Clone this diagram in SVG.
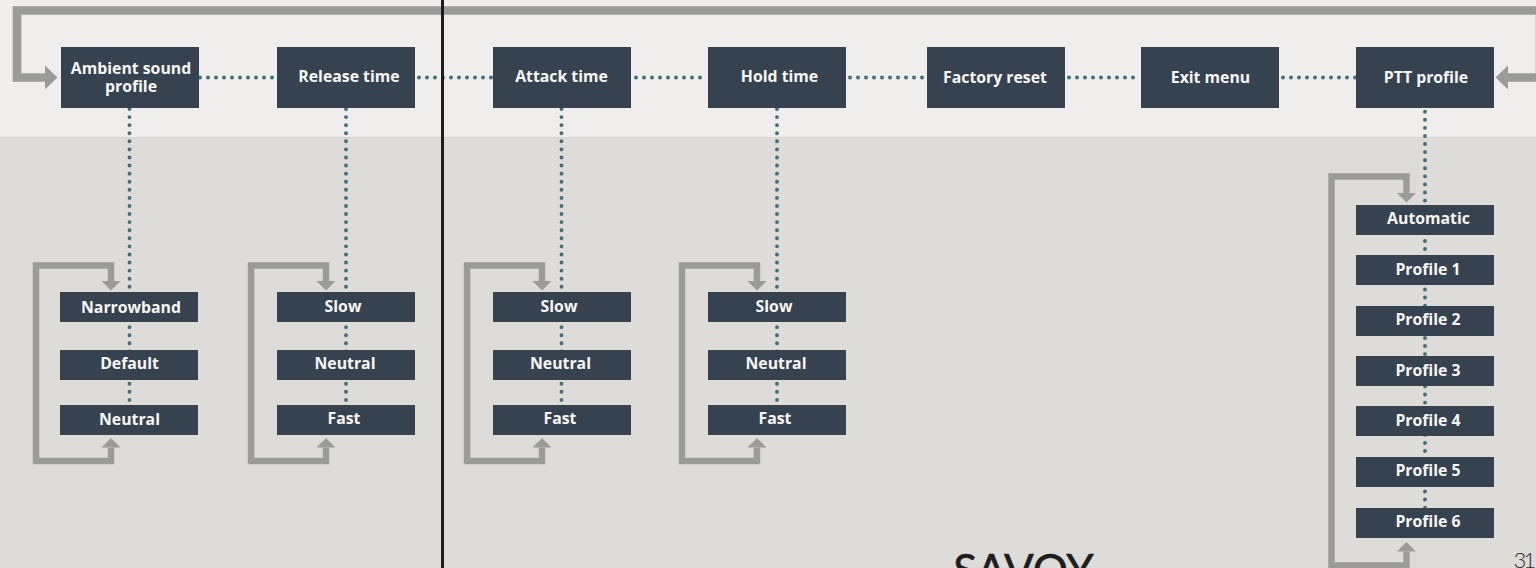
<svg xmlns="http://www.w3.org/2000/svg" width="1536" height="568" viewBox="0 0 1536 568">
<style>
.n{fill:#36424f}
.t{font-family:"Open Sans","Liberation Sans",sans-serif;font-weight:700;font-size:15.8px;fill:#f7f7f5;text-anchor:middle}
.d{fill:none;stroke:#3f6f78;stroke-width:3.9;stroke-linecap:round;stroke-dasharray:0 8.08}
.h{stroke-dasharray:0 8}
.l{fill:none;stroke:#9b9c9a;stroke-width:6.5}
.big{stroke-width:8.7}
.fh{fill:#9b9c9a}
</style>
<defs>
<marker id="a" markerUnits="userSpaceOnUse" markerWidth="10" markerHeight="20" refX="0" refY="9.5" orient="auto-start-reverse" viewBox="0 0 10 19"><path class="fh" d="M0 0L9.5 9.5L0 19Z"/></marker>
<marker id="b" markerUnits="userSpaceOnUse" markerWidth="13" markerHeight="25" refX="0" refY="12" orient="auto-start-reverse" viewBox="0 0 13 24"><path class="fh" d="M0 0L12.5 12L0 24Z"/></marker>
</defs>
<rect width="1536" height="568" fill="#dddcd8"/>
<rect width="1536" height="137" fill="#efeeec"/>
<rect y="137" width="1536" height="1" fill="#d5d4cf"/>
<g id="connectors">
<path class="d h" d="M200 77.500H277M419 77.500H493M636 77.500H708M850 77.500H927M1069 77.500H1141M1283 77.500H1356"/>
<path class="d" d="M129.500 109V420M346 109V420M561.500 109V420M777 109V420M1425 111.700V520"/>
<path class="l big" marker-start="url(#b)" marker-end="url(#b)" d="M1508 77.500H1540V10.500H17V77.500H45"/>
<path class="l" marker-start="url(#a)" marker-end="url(#a)" d="M111 281V265.500H36V461H111V447.500"/>
<path class="l" marker-start="url(#a)" marker-end="url(#a)" d="M326 281V265.500H251V461H326V447.500"/>
<path class="l" marker-start="url(#a)" marker-end="url(#a)" d="M542 281V265.500H467V461H542V447.500"/>
<path class="l" marker-start="url(#a)" marker-end="url(#a)" d="M757 281V265.500H682V461H757V447.500"/>
<path class="l" marker-start="url(#a)" marker-end="url(#a)" d="M1406.500 193V176.500H1331.500V565.500H1406.500V551.500"/>
</g>
<rect id="divider" x="441" y="0" width="3" height="568" fill="#1d1d1f"/>
<g id="ambient"><rect class="n" x="61" y="47" width="138" height="61"/><text class="t" x="131" y="74">Ambient sound</text><text class="t" x="131" y="92">profile</text></g>
<g id="release"><rect class="n" x="277" y="47" width="138" height="61"/><text class="t" x="349" y="82">Release time</text></g>
<g id="attack"><rect class="n" x="493" y="47" width="138" height="61"/><text class="t" x="561.500" y="82">Attack time</text></g>
<g id="hold"><rect class="n" x="708" y="47" width="138" height="61"/><text class="t" x="779.500" y="82">Hold time</text></g>
<g id="factory"><rect class="n" x="927" y="47" width="138" height="61"/><text class="t" x="995" y="83">Factory reset</text></g>
<g id="exit"><rect class="n" x="1141" y="47" width="138" height="61"/><text class="t" x="1210.500" y="83">Exit menu</text></g>
<g id="ptt"><rect class="n" x="1356" y="47" width="138" height="61"/><text class="t" x="1426" y="83">PTT profile</text></g>
<g id="a1"><rect class="n" x="60" y="292" width="138" height="30"/><text class="t" x="131" y="313">Narrowband</text></g>
<g id="a2"><rect class="n" x="60" y="350" width="138" height="30"/><text class="t" x="129.500" y="369">Default</text></g>
<g id="a3"><rect class="n" x="60" y="405" width="138" height="30"/><text class="t" x="129.500" y="425">Neutral</text></g>
<g id="r1"><rect class="n" x="277" y="292" width="138" height="30"/><text class="t" x="343" y="312">Slow</text></g>
<g id="r2"><rect class="n" x="277" y="350" width="138" height="30"/><text class="t" x="345" y="369">Neutral</text></g>
<g id="r3"><rect class="n" x="277" y="405" width="138" height="30"/><text class="t" x="344" y="424">Fast</text></g>
<g id="t1"><rect class="n" x="493" y="292" width="138" height="30"/><text class="t" x="559" y="312">Slow</text></g>
<g id="t2"><rect class="n" x="493" y="350" width="138" height="30"/><text class="t" x="560.500" y="369">Neutral</text></g>
<g id="t3"><rect class="n" x="493" y="405" width="138" height="30"/><text class="t" x="560" y="424">Fast</text></g>
<g id="h1"><rect class="n" x="708" y="292" width="138" height="30"/><text class="t" x="774" y="312">Slow</text></g>
<g id="h2"><rect class="n" x="708" y="350" width="138" height="30"/><text class="t" x="776" y="369">Neutral</text></g>
<g id="h3"><rect class="n" x="708" y="405" width="138" height="30"/><text class="t" x="775" y="424">Fast</text></g>
<g id="p0"><rect class="n" x="1356" y="205" width="138" height="30"/><text class="t" x="1428.500" y="224">Automatic</text></g>
<g id="p1"><rect class="n" x="1356" y="255" width="138" height="30"/><text class="t" x="1428" y="275">Profile 1</text></g>
<g id="p2"><rect class="n" x="1356" y="306" width="138" height="30"/><text class="t" x="1428" y="325">Profile 2</text></g>
<g id="p3"><rect class="n" x="1356" y="356" width="138" height="30"/><text class="t" x="1428" y="376">Profile 3</text></g>
<g id="p4"><rect class="n" x="1356" y="406" width="138" height="30"/><text class="t" x="1428" y="426">Profile 4</text></g>
<g id="p5"><rect class="n" x="1356" y="457" width="138" height="30"/><text class="t" x="1428" y="476">Profile 5</text></g>
<g id="p6"><rect class="n" x="1356" y="508" width="138" height="30"/><text class="t" x="1428" y="527">Profile 6</text></g>
<text x="1023.500" y="586" font-family="Lato,'Liberation Sans',sans-serif" font-weight="400" stroke="#1d1d1f" stroke-width="0.6" font-size="44" fill="#1d1d1f" text-anchor="middle">SAVOY</text>
<text x="1533" y="568" font-family="Lato,'Liberation Sans',sans-serif" font-weight="300" font-size="22" letter-spacing="-3" fill="#2a2a2c" text-anchor="end">31</text>
</svg>
